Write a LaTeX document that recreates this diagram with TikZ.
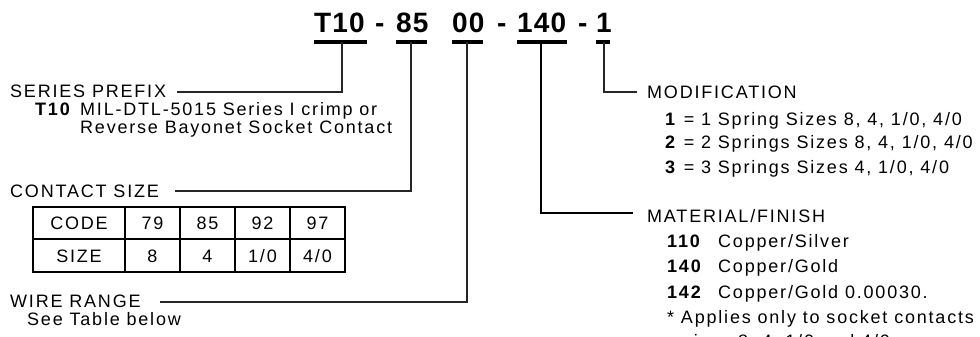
\documentclass[tikz,border=0pt]{standalone}
\usepackage{fontspec}
\setmainfont{Liberation Sans}[LetterSpace=10]
\begin{document}
\begin{tikzpicture}[x=1pt,y=-1pt,
  lbl/.style={anchor=base west,inner sep=0pt,font=\fontsize{18}{21}\selectfont},
  cell/.style={anchor=center,inner sep=0pt,font=\fontsize{18}{21}\selectfont},
  codetxt/.style={anchor=base west,inner sep=0pt,font=\fontsize{28}{30}\selectfont\bfseries\addfontfeature{LetterSpace=4}},
  bar/.style={line width=4.5pt},
  conn/.style={line width=1.2pt,black!85},
  connthick/.style={line width=2.6pt,black},
  tbl/.style={line width=1.6pt}]
\useasboundingbox (0,0) rectangle (980,337);
\clip (0,0) rectangle (980,337);
% title code
\node[codetxt] (g1) at (314,33) {T10};
\node[codetxt] (d1) at (375,33) {-};
\node[codetxt] (g2) at (396,33) {85};
\node[codetxt] (g3) at (452,33) {00};
\node[codetxt] (d2) at (497,33) {-};
\node[codetxt] (g4) at (517,33) {140};
\node[codetxt] (d3) at (578,33) {-};
\node[codetxt] (g5) at (596,33) {1};
% bars
\coordinate (b1l) at (314,42); \coordinate (b1r) at (367,42); \coordinate (b1m) at (342,42);
\coordinate (b2l) at (396,42); \coordinate (b2r) at (427,42); \coordinate (b2m) at (411,42);
\coordinate (b3l) at (452,42); \coordinate (b3r) at (483,42); \coordinate (b3m) at (467,42);
\coordinate (b4l) at (517,42); \coordinate (b4r) at (567,42); \coordinate (b4m) at (541,42);
\coordinate (b5l) at (596,42); \coordinate (b5r) at (610,42); \coordinate (b5m) at (604,42);
\draw[bar] (b1l) -- (b1r);
\draw[bar] (b2l) -- (b2r);
\draw[bar] (b3l) -- (b3r);
\draw[bar] (b4l) -- (b4r);
\draw[bar] (b5l) -- (b5r);
% series prefix
\node[lbl] (sp) at (10,97) {SERIES PREFIX};
\node[lbl] (spc) at (35,115) {\textbf{T10}};
\node[lbl] (sp1) at (80,115) {MIL-DTL-5015 Series I crimp or};
\node[lbl] (sp2) at (80,133) {Reverse Bayonet Socket Contact};
\coordinate (spe) at (177,92);
\draw[conn] (b1m) |- (spe);
% contact size
\node[lbl] (cs) at (10,197) {CONTACT SIZE};
\coordinate (cse) at (175,191);
\draw[conn] (b2m) |- (cse);
\draw[tbl] (33,207) rectangle (345,272);
\draw[tbl] (33,239) -- (345,239);
\foreach \x in {125,180,235,290} \draw[tbl] (\x,207) -- (\x,272);
\node[cell] (c11) at (79,223.5) {CODE};
\node[cell] (c12) at (152.5,223.5) {79};
\node[cell] (c13) at (207.5,223.5) {85};
\node[cell] (c14) at (262.5,223.5) {92};
\node[cell] (c15) at (317.5,223.5) {97};
\node[cell] (c21) at (79,256) {SIZE};
\node[cell] (c22) at (152.5,256) {8};
\node[cell] (c23) at (207.5,256) {4};
\node[cell] (c24) at (262.5,256) {1/0};
\node[cell] (c25) at (317.5,256) {4/0};
% wire range
\node[lbl] (wr) at (10,307) {WIRE RANGE};
\node[lbl] (wr1) at (27,325) {See Table below};
\coordinate (wre) at (160,302);
\draw[conn] (b3m) |- (wre);
% modification
\coordinate (moe) at (637,92);
\draw[conn] (b5m) |- (moe);
\node[lbl] (mo) at (647,98) {MODIFICATION};
\node[lbl] (mo1) at (665,125) {\textbf{1} = 1 Spring Sizes 8, 4, 1/0, 4/0};
\node[lbl] (mo2) at (665,148) {\textbf{2} = 2 Springs Sizes 8, 4, 1/0, 4/0};
\node[lbl] (mo3) at (665,173) {\textbf{3} = 3 Springs Sizes 4, 1/0, 4/0};
% material / finish
\coordinate (mfe) at (633,213);
\draw[connthick] (b4m) |- (mfe);
\node[lbl] (mf) at (647,222) {MATERIAL/FINISH};
\node[lbl] (mf1c) at (667,247) {\textbf{110}};
\node[lbl] (mf1) at (718,247) {Copper/Silver};
\node[lbl] (mf2c) at (667,272) {\textbf{140}};
\node[lbl] (mf2) at (718,272) {Copper/Gold};
\node[lbl] (mf3c) at (667,298) {\textbf{142}};
\node[lbl] (mf3) at (718,298) {Copper/Gold 0.00030.};
\node[lbl] (mf4) at (667,323) {* Applies only to socket contacts};
\node[lbl] (mf5) at (683,347) {sizes 8, 4, 1/0 and 4/0};
\end{tikzpicture}
\end{document}
